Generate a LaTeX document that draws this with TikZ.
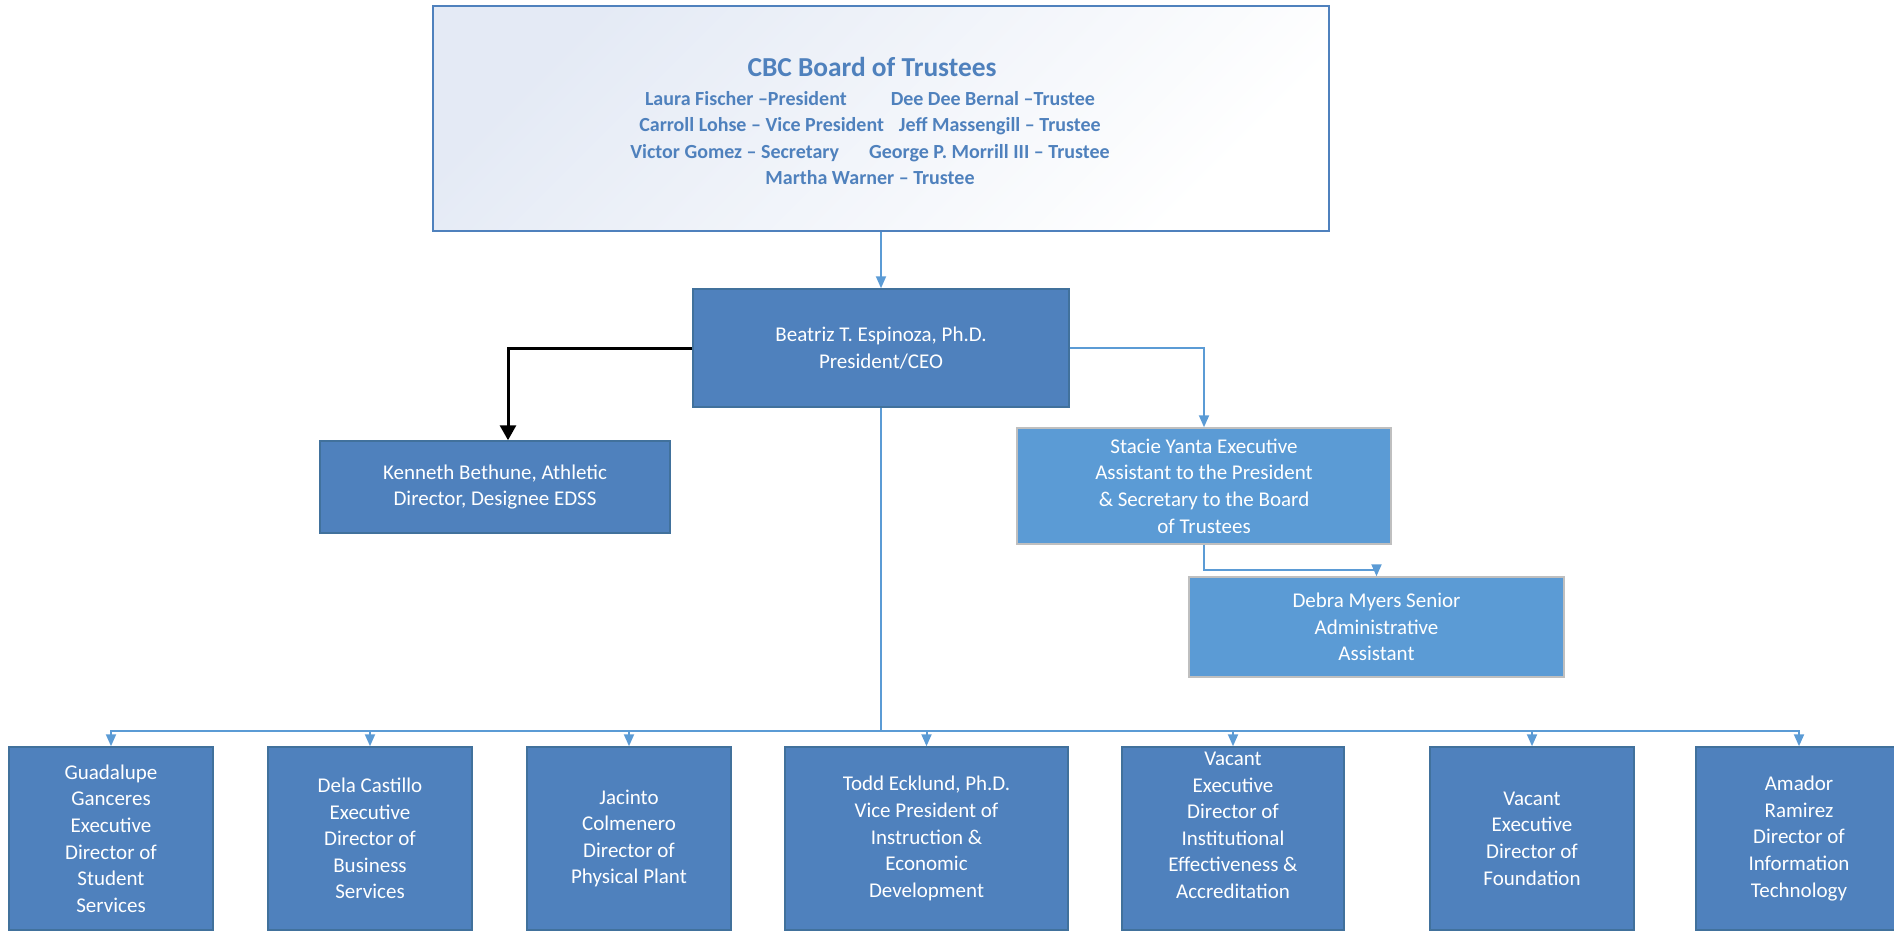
\documentclass[tikz,border=0pt]{standalone}
\usepackage{fontspec}
\setmainfont{Carlito}
\usepackage{tikz}
\usetikzlibrary{arrows.meta}
\definecolor{boxblue}{RGB}{79, 129, 189}
\definecolor{boxedge}{RGB}{65, 113, 156}
\definecolor{lightbox}{RGB}{91, 155, 213}
\definecolor{lightedge}{RGB}{191, 191, 191}
\definecolor{linkblue}{RGB}{91, 155, 213}
\definecolor{boardtext}{RGB}{79, 129, 189}
\definecolor{boardedge}{RGB}{79, 129, 189}
\definecolor{boardtop}{RGB}{228, 234, 245}

\begin{document}
\begin{tikzpicture}[x=0.5pt, y=-0.5pt,
  unit/.style={draw=boxedge, fill=boxblue, text=white, align=center, inner sep=0pt,
    line width=0.75pt, font=\fontsize{10.5}{13.3}\selectfont},
  aide/.style={unit, draw=lightedge, fill=lightbox},
  dept/.style={unit, minimum width=102pt, minimum height=91.5pt},
  link/.style={linkblue, line width=1pt, -{Triangle[width=5pt, length=6pt]}}]

  \useasboundingbox (0, 0) rectangle (1894, 931);

  \node[draw=boardedge, line width=0.75pt, top color=boardtop, bottom color=white,
    shading angle=45, minimum width=448pt, minimum height=112.5pt] (board) at (881, 118.5) {};
  \node[text=boardtext, font=\bfseries\fontsize{13.7}{16}\selectfont] (title) at (872, 67)
    {CBC Board of Trustees};
  \node[text=boardtext, align=center, font=\bfseries\fontsize{10}{13.25}\selectfont] (members) at (870, 138) {
    Laura Fischer –President\hspace{22pt}Dee Dee Bernal –Trustee\\
    Carroll Lohse – Vice President\hspace{7.5pt}Jeff Massengill – Trustee\\
    Victor Gomez – Secretary\hspace{15pt}George P. Morrill III – Trustee\\
    Martha Warner – Trustee
  };

  \node[unit, minimum width=188pt, minimum height=59pt] (pres) at (881, 348)
    {Beatriz T. Espinoza, Ph.D.\\President/CEO};
  \node[unit, minimum width=175pt, minimum height=46pt] (ken) at (495, 487)
    {Kenneth Bethune, Athletic\\Director, Designee EDSS};
  \node[aide, minimum width=187pt, minimum height=58pt] (stacie) at (1204, 486)
    {Stacie Yanta Executive\\Assistant to the President\\\& Secretary to the Board\\of Trustees};
  \node[aide, minimum width=187.5pt, minimum height=50pt] (debra) at (1376.5, 627)
    {Debra Myers Senior\\Administrative\\Assistant};

  \node[dept] (d1) at (111, 838.5)
    {Guadalupe\\Ganceres\\Executive\\Director of\\Student\\Services};
  \node[dept] (d2) at (370, 838.5)
    {Dela Castillo\\Executive\\Director of\\Business\\Services};
  \node[dept] (d3) at (629, 838.5)
    {Jacinto\\Colmenero\\Director of\\Physical Plant};
  \node[dept, minimum width=141.5pt] (d4) at (926.5, 838.5)
    {Todd Ecklund, Ph.D.\\Vice President of\\Instruction \&\\Economic\\Development};
  \node[dept, minimum width=111pt] (d5) at (1233, 838.5)
    {Vacant\\Executive\\Director of\\Institutional\\Effectiveness \&\\Accreditation\\ \mbox{}};
  \node[dept] (d6) at (1532, 838.5)
    {Vacant\\Executive\\Director of\\Foundation};
  \node[dept, minimum width=103pt] (d7) at (1799, 838.5)
    {Amador\\Ramirez\\Director of\\Information\\Technology};

  \draw[link] (board.south) -- (pres.north);
  \draw[black, line width=1.5pt, -{Triangle[width=8pt, length=7.5pt]}]
    (pres.west) -| ([xshift=6.5pt]ken.north);
  \draw[link] (pres.east) -| (stacie.north);
  \draw[link] (stacie.south) -- ++(0, 25) -| (debra.north);

  \coordinate (bus) at (881, 731);
  \draw[linkblue, line width=1pt] (pres.south) -- (bus);
  \foreach \d in {d1, d2, d3, d4, d5, d6, d7}
    \draw[link] (bus) -| (\d.north);

\end{tikzpicture}
\end{document}
